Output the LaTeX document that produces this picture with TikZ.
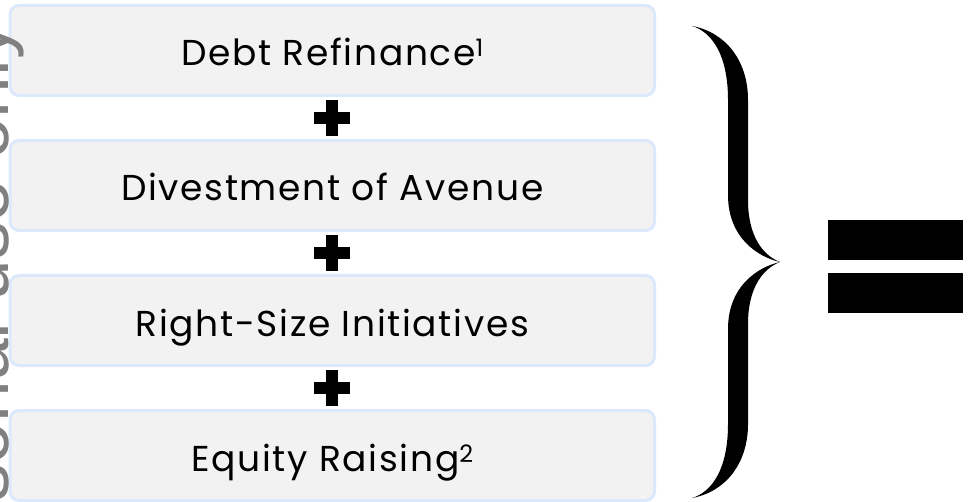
\documentclass[tikz,border=0pt]{standalone}
\usepackage{fontspec}
\setmainfont[LetterSpace=4.7,Ligatures=NoCommon]{Poppins}
\newfontfamily\wmfont{Liberation Sans}
\usetikzlibrary{calc}
\definecolor{boxfill}{RGB}{242,242,242}
\definecolor{boxline}{RGB}{220,232,251}
\definecolor{wmgray}{RGB}{128,128,128}
\newcommand\supmark[1]{\raisebox{9pt}{\fontsize{24}{24}\selectfont #1}}
\begin{document}
\begin{tikzpicture}[x=1pt,y=-1pt,
  stepbox/.style={draw=boxline, line width=3pt, fill=boxfill, rounded corners=9pt,
    minimum width=644.5pt, minimum height=90pt, inner sep=0pt,
    text height=31pt, text depth=0pt,
    font=\fontsize{36}{42}\selectfont, text=black},
  plusmark/.style={fill=black},
  wmark/.style={rotate=90, anchor=base east, inner sep=0pt, text=wmgray,
    font=\wmfont\fontsize{75}{75}\selectfont}]
\useasboundingbox (0,0) rectangle (968,502);
\node[stepbox] (b1) at (332.25,50.5) {Debt Refinance\supmark{1}};
\node[stepbox] (b2) at (332.25,185.5) {Divestment of Avenue};
\node[stepbox] (b3) at (332.25,320.5) {Right-Size Initiatives};
\node[stepbox] (b4) at (332.25,455.5) {Equity Raising\supmark{2}};
% plus signs
\foreach \a/\b in {b1/b2,b2/b3,b3/b4}{
  \coordinate (p) at ($(\a.south)!0.5!(\b.north)$);
  \begin{scope}[shift={(p)}]
    \fill[plusmark] (-6,-18) rectangle (6,18);
    \fill[plusmark] (-18,-6) rectangle (18,6);
  \end{scope}
}
% brace
\fill[black] (692,26) .. controls (725,32) and (748,60) .. (748,100)
  -- (748,200) .. controls (748,235) and (762,255) .. (780,262)
  .. controls (758,257) and (728,238) .. (728,195)
  -- (728,100) .. controls (728,55) and (712,32) .. (692,26) -- cycle;
\fill[black] (692,498) .. controls (725,492) and (748,464) .. (748,424)
  -- (748,324) .. controls (748,289) and (762,269) .. (780,262)
  .. controls (758,267) and (728,286) .. (728,329)
  -- (728,424) .. controls (728,469) and (712,492) .. (692,498) -- cycle;
% equals
\fill[black] (828,220) rectangle (963,260);
\fill[black] (828,273) rectangle (963,313);
% watermark
\node[wmark] (wm) at (9,22) {For personal use only};
\end{tikzpicture}
\end{document}
